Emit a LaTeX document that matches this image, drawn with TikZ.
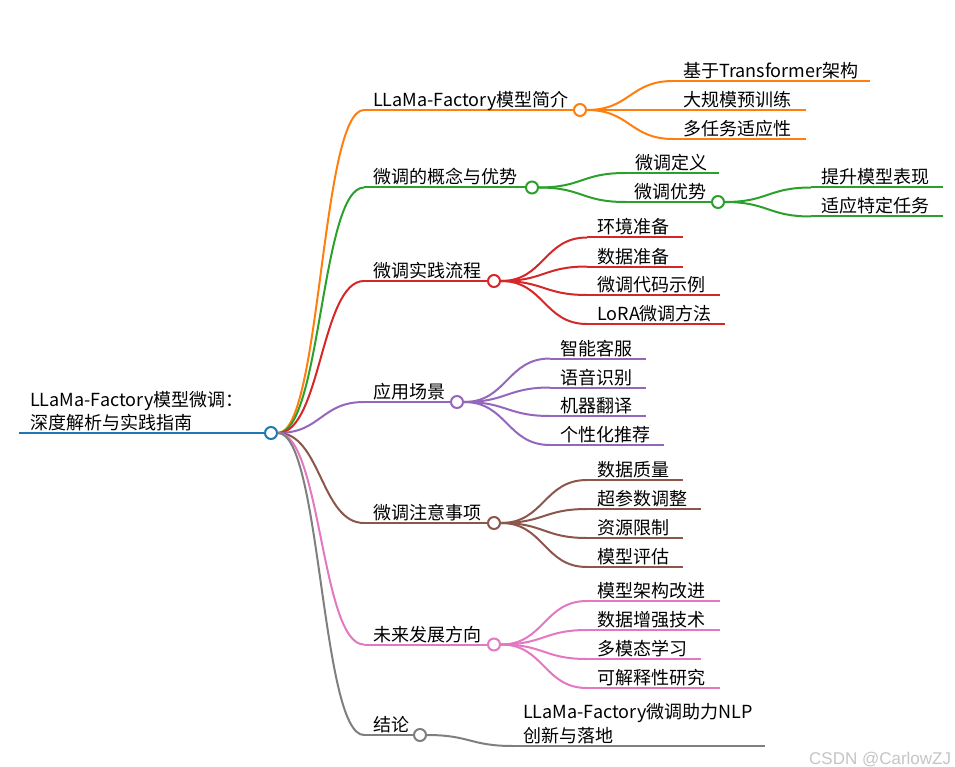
\documentclass[tikz,border=0pt]{standalone}
\usepackage{fontspec}
\setmainfont{Noto Sans CJK SC}
\newfontfamily\wmfont{Liberation Sans}
\definecolor{cblue}{HTML}{1F77B4}
\definecolor{corange}{HTML}{FF7F0E}
\definecolor{cgreen}{HTML}{2CA02C}
\definecolor{cred}{HTML}{D62728}
\definecolor{cpurple}{HTML}{9467BD}
\definecolor{cbrown}{HTML}{8C564B}
\definecolor{cpink}{HTML}{E377C2}
\definecolor{cgray}{HTML}{7F7F7F}
\definecolor{cwm}{HTML}{C4C4C4}
% node with a circle: parent, name, colour, line start x, y, circle x, text
\newcommand\mmnode[7]{%
  \node[dot,draw=#3] (#2) at (#6,#5) {};
  \coordinate (#2-s) at (#4,#5);
  \draw[lnk,#3] (#1) to (#2-s);
  \draw[bar,#3] (#2-s) -- (#2);
  \node[lbl] (#2-t) at (#4+9,#5-3.5) {#7};
}
% leaf: parent, name, colour, line start x, y, line end x, text
\newcommand\mmleaf[7]{%
  \coordinate (#2-s) at (#4,#5);
  \coordinate (#2-e) at (#6,#5);
  \draw[lnk,#3] (#1) to (#2-s);
  \draw[bar,#3] (#2-s) -- (#2-e);
  \node[lbl] (#2) at (#4+10,#5-3.5) {#7};
}
\begin{document}
\begin{tikzpicture}[x=1pt,y=-1pt,
  dot/.style={circle,fill=white,line width=2pt,minimum size=12pt,inner sep=0pt},
  lnk/.style={line width=2pt,out=0,in=180,distance=43pt},
  bar/.style={line width=2pt},
  lbl/.style={anchor=base west,inner sep=0pt,font=\fontsize{18}{22}\selectfont,text=black}]
\useasboundingbox (0,0) rectangle (955,767);
% root
\node[dot,draw=cblue] (root) at (271,433) {};
\coordinate (root-s) at (19,433);
\draw[line width=2.5pt,cblue] (root-s) -- (root);
\node[lbl] (root-t1) at (30,406) {LLaMa-Factory模型微调：};
\node[lbl] (root-t2) at (30,429) {深度解析与实践指南};
% level 1
\mmnode{root}{o}{corange}{364}{110}{580}{LLaMa-Factory模型简介}
\mmnode{root}{g}{cgreen}{364}{187.5}{532}{微调的概念与优势}
\mmnode{root}{r}{cred}{364}{281}{494}{微调实践流程}
\mmnode{root}{p}{cpurple}{364}{402}{457}{应用场景}
\mmnode{root}{b}{cbrown}{364}{523}{494}{微调注意事项}
\mmnode{root}{k}{cpink}{364}{644.5}{494}{未来发展方向}
\mmnode{root}{n}{cgray}{364}{735}{420}{结论}
% orange
\mmleaf{o}{o1}{corange}{673}{81}{870}{基于Transformer架构}
\mmleaf{o}{o2}{corange}{673}{110}{806}{大规模预训练}
\mmleaf{o}{o3}{corange}{673}{139}{806}{多任务适应性}
% green
\mmleaf{g}{g1}{cgreen}{625}{173}{719}{微调定义}
\mmnode{g}{g2}{cgreen}{625}{202}{718}{微调优势}
\mmleaf{g2}{g21}{cgreen}{811}{187.5}{943}{提升模型表现}
\mmleaf{g2}{g22}{cgreen}{811}{216.5}{943}{适应特定任务}
% red
\mmleaf{r}{r1}{cred}{587}{237.5}{683}{环境准备}
\mmleaf{r}{r2}{cred}{587}{266.5}{683}{数据准备}
\mmleaf{r}{r3}{cred}{587}{295}{720}{微调代码示例}
\mmleaf{r}{r4}{cred}{587}{324}{725}{LoRA微调方法}
% purple
\mmleaf{p}{p1}{cpurple}{550}{358.5}{646}{智能客服}
\mmleaf{p}{p2}{cpurple}{550}{387.5}{646}{语音识别}
\mmleaf{p}{p3}{cpurple}{550}{416}{646}{机器翻译}
\mmleaf{p}{p4}{cpurple}{550}{445}{664}{个性化推荐}
% brown
\mmleaf{b}{b1}{cbrown}{587}{480}{683}{数据质量}
\mmleaf{b}{b2}{cbrown}{587}{509}{701}{超参数调整}
\mmleaf{b}{b3}{cbrown}{587}{538}{683}{资源限制}
\mmleaf{b}{b4}{cbrown}{587}{567}{683}{模型评估}
% pink
\mmleaf{k}{k1}{cpink}{587}{601}{720}{模型架构改进}
\mmleaf{k}{k2}{cpink}{587}{630}{720}{数据增强技术}
\mmleaf{k}{k3}{cpink}{587}{659}{701}{多模态学习}
\mmleaf{k}{k4}{cpink}{587}{688}{720}{可解释性研究}
% gray leaf (two lines)
\coordinate (n1-s) at (513,746);
\coordinate (n1-e) at (765,746);
\draw[lnk,cgray] (n) to (n1-s);
\draw[bar,cgray] (n1-s) -- (n1-e);
\node[lbl] (n1-t1) at (523,718.5) {LLaMa-Factory微调助力NLP};
\node[lbl] (n1-t2) at (523,742) {创新与落地};
% watermark
\node[anchor=base west,inner sep=0pt,text=cwm,font=\wmfont\fontsize{17}{20}\selectfont] (wm) at (809,764) {CSDN @CarlowZJ};
\end{tikzpicture}
\end{document}
